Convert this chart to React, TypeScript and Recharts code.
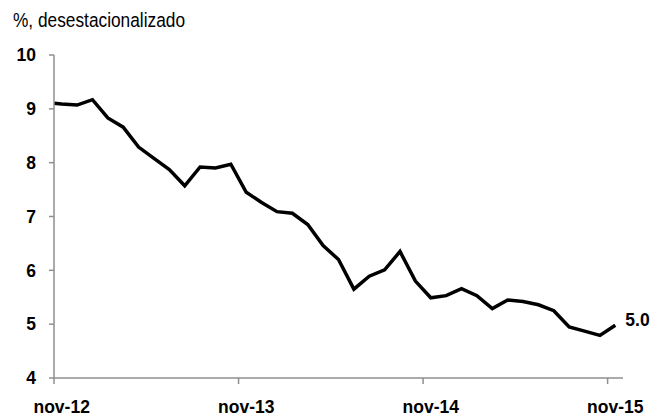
import { LineChart, Line, XAxis, YAxis } from "recharts";

// Tasa de desempleo, % desestacionalizado, oct-12 .. nov-15 (oct-12 sólo asoma en el borde)
const firstMonth = -1; // oct-12, nov-12 = 0
const unemployment = [
  9.12, 9.09, 9.07, 9.17, 8.83, 8.66, 8.29, 8.08, 7.87, 7.57, 7.92, 7.9, 7.97,
  7.45, 7.26, 7.09, 7.06, 6.85, 6.46, 6.2, 5.65, 5.89, 6.01, 6.35, 5.8, 5.49,
  5.53, 5.66, 5.53, 5.29, 5.45, 5.42, 5.36, 5.25, 4.95, 4.87, 4.79, 4.98,
];
const xTickLabels = ["nov-12", "nov-13", "nov-14", "nov-15"];
const yTicks = [4, 5, 6, 7, 8, 9, 10];
const subtitle = "%, desestacionalizado";

const W = 663;
const H = 417;
const M = { top: 55, right: 40, bottom: 9, left: 0 };
const Y_W = 54;
const MONTHS = 37; // nov-12 .. nov-15 bands
const half = (W - Y_W - M.right - M.left) / MONTHS / 2;

const FONT = "'Liberation Sans', Arial, sans-serif";
const C = { axis: "#8f8f8f", ink: "#000000" };

const data = unemployment.map((v, k) => ({ m: k + firstMonth, v }));
const xTicks = xTickLabels.map((_, k) => k * 12 - 0.5);
const lastIdx = data.length - 1;

function XTick({ x, y, payload }: any) {
  const k = xTicks.indexOf(payload.value);
  return (
    <text
      x={x + half}
      y={y}
      dy={28.5}
      textAnchor="middle"
      fontFamily={FONT}
      fontSize={17.5}
      fontWeight={700}
      fill={C.ink}
    >
      {xTickLabels[k]}
    </text>
  );
}

function LastLabel({ x, y, index, value }: any) {
  if (index !== lastIdx) return null;
  return (
    <text
      x={x + 10}
      y={y}
      dy={1}
      fontFamily={FONT}
      fontSize={17.5}
      fontWeight={700}
      fill={C.ink}
    >
      {Number(value).toFixed(1)}
    </text>
  );
}

export default function App() {
  return (
    <div style={{ position: "absolute", left: 0, top: 0, width: W, height: H, background: "#fff" }}>
      <svg width={W} height={40} style={{ position: "absolute", left: 0, top: 0 }}>
        <text
          x={13}
          y={27}
          fontFamily={FONT}
          fontSize={20.5}
          fill={C.ink}
          textLength={172}
          lengthAdjust="spacingAndGlyphs"
        >
          {subtitle}
        </text>
      </svg>
      <LineChart width={W} height={H} data={data} margin={M}>
        <XAxis
          dataKey="m"
          type="number"
          domain={[-0.5, MONTHS - 0.5]}
          allowDataOverflow
          ticks={xTicks}
          interval={0}
          height={30}
          tickSize={6}
          tickMargin={0}
          axisLine={{ stroke: C.axis, strokeWidth: 1.5 }}
          tickLine={{ stroke: C.axis, strokeWidth: 1.5 }}
          tick={<XTick />}
        />
        <YAxis
          type="number"
          domain={[4, 10]}
          ticks={yTicks}
          interval={0}
          width={Y_W}
          tickSize={5}
          tickMargin={13}
          axisLine={{ stroke: C.axis, strokeWidth: 1.5 }}
          tickLine={{ stroke: C.axis, strokeWidth: 1.5 }}
          tick={{ fontFamily: FONT, fontSize: 17.5, fontWeight: 700, fill: C.ink }}
        />
        <Line
          type="linear"
          dataKey="v"
          stroke={C.ink}
          strokeWidth={3.5}
          dot={false}
          activeDot={false}
          isAnimationActive={false}
          label={<LastLabel />}
        />
      </LineChart>
    </div>
  );
}
